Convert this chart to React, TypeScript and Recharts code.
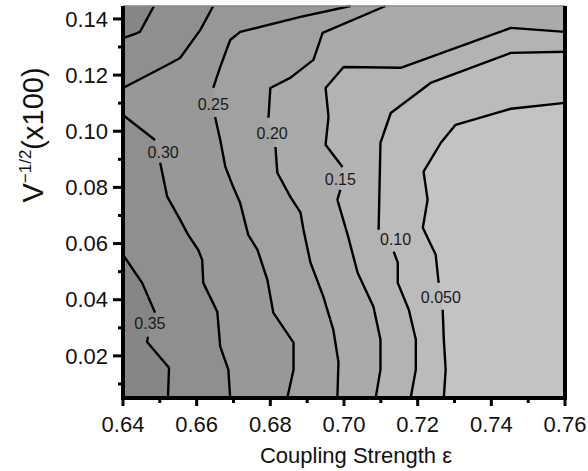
import { Scatter, ScatterChart, XAxis, YAxis } from 'recharts';

const xDomain = [0.64, 0.76];
const yDomain = [0.005, 0.1446];
const xTicks = [0.64, 0.65, 0.66, 0.67, 0.68, 0.69, 0.7, 0.71, 0.72, 0.73, 0.74, 0.75, 0.76];
const yTicks = [0.01, 0.02, 0.03, 0.04, 0.05, 0.06, 0.07, 0.08, 0.09, 0.1, 0.11, 0.12, 0.13, 0.14];

// contour lines as [coupling, V^-1/2] points; split where the level label sits
const c035a = [[0.6484, 0.1446], [0.6446, 0.1354], [0.6433, 0.1347], [0.64, 0.1332]];
const c035b1 = [[0.64, 0.056], [0.6452, 0.046], [0.6487, 0.0354]];
const c035b2 = [[0.6468, 0.0268], [0.6465, 0.025], [0.6525, 0.0158], [0.6522, 0.005]];

const c030a = [[0.6645, 0.1446], [0.661, 0.1361], [0.6555, 0.1261], [0.652, 0.1236], [0.64, 0.1154]];
const c030b1 = [[0.64, 0.1058], [0.6487, 0.0969]];
const c030b2 = [
  [0.6501, 0.0888], [0.652, 0.0767], [0.6555, 0.0685], [0.6577, 0.0631], [0.6604, 0.0578],
  [0.6615, 0.0542], [0.6618, 0.046], [0.6656, 0.0357], [0.6664, 0.0233], [0.6686, 0.0151], [0.6691, 0.005],
];

const c025a = [[0.7018, 0.1446], [0.6882, 0.1407], [0.6718, 0.1354], [0.6691, 0.1325], [0.6664, 0.1229], [0.6645, 0.1154]];
const c025b = [
  [0.665, 0.1051], [0.6664, 0.0969], [0.6678, 0.0873], [0.6699, 0.0802], [0.6718, 0.0745], [0.674, 0.0631],
  [0.6765, 0.0578], [0.6792, 0.0471], [0.6808, 0.0354], [0.6863, 0.0247], [0.6863, 0.0151], [0.6846, 0.005],
];

const c020a = [[0.7113, 0.1446], [0.6942, 0.135], [0.6917, 0.1254], [0.6854, 0.119], [0.68, 0.1154], [0.6795, 0.1048]];
const c020b = [
  [0.6814, 0.0944], [0.6819, 0.0852], [0.6854, 0.0767], [0.6882, 0.071], [0.689, 0.0649], [0.6909, 0.0532],
  [0.6944, 0.0411], [0.6971, 0.0293], [0.6985, 0.0178], [0.6982, 0.005],
];

const c015a = [[0.76, 0.1354], [0.7453, 0.1368], [0.7154, 0.1226], [0.6999, 0.1229], [0.695, 0.1154], [0.6958, 0.1051], [0.695, 0.0952], [0.6996, 0.0873]];
const c015b = [[0.699, 0.0791], [0.6982, 0.0756], [0.701, 0.0631], [0.7037, 0.0496], [0.708, 0.0375], [0.7099, 0.0258], [0.7099, 0.0151], [0.7086, 0.005]];

const c010a = [[0.76, 0.1283], [0.7453, 0.1279], [0.7235, 0.1172], [0.7127, 0.1065], [0.7099, 0.0959], [0.7094, 0.0649]];
const c010b = [[0.7135, 0.0571], [0.7146, 0.0532], [0.7146, 0.046], [0.7176, 0.0364], [0.7195, 0.0258], [0.7195, 0.0151], [0.7181, 0.005]];

const c005a = [[0.76, 0.1101], [0.7453, 0.108], [0.7303, 0.1023], [0.7263, 0.0959], [0.7216, 0.0856], [0.7227, 0.0756], [0.7214, 0.0656], [0.7249, 0.056], [0.7257, 0.046]];
const c005b = [[0.7268, 0.0364], [0.7271, 0.0258], [0.7276, 0.0151], [0.7271, 0.005]];

const levelText = ['0.35', '0.30', '0.25', '0.20', '0.15', '0.10', '0.050'];
const levelX = [0.6473, 0.6509, 0.6645, 0.6805, 0.699, 0.714, 0.7263];
const levelY = [0.0315, 0.0923, 0.1094, 0.0994, 0.0827, 0.0614, 0.0407];

const font = '"Liberation Sans", Arial, sans-serif';

const toPts = (arr: number[][]) => arr.map(([x, y]) => ({ x, y }));
const noDot = () => <g />;
const isMajor = (v: number) => Math.round(v * 100) % 2 === 0;

// major ticks get a label and a longer mark, minor ticks only a short mark
const XTick = (p: any) => {
  const v = p.payload.value;
  const major = isMajor(v);
  return (
    <g>
      <line x1={p.x} x2={p.x} y1={p.y} y2={p.y + (major ? 8 : 5)} stroke="#000" strokeWidth={3} />
      {major && (
        <text x={p.x} y={p.y + 34} textAnchor="middle" fontSize={22} fontFamily={font} fill="#111">
          {v.toFixed(2)}
        </text>
      )}
    </g>
  );
};

const YTick = (p: any) => {
  const v = p.payload.value;
  const major = isMajor(v);
  return (
    <g>
      <line x1={p.x} x2={p.x - (major ? 10 : 5)} y1={p.y} y2={p.y} stroke="#000" strokeWidth={3} />
      {major && (
        <text x={p.x - 15} y={p.y} dy="0.35em" textAnchor="end" fontSize={22} fontFamily={font} fill="#111">
          {v.toFixed(2)}
        </text>
      )}
    </g>
  );
};

const LevelLabel = (p: any) => (
  <text x={p.cx} y={p.cy} dy="0.35em" textAnchor="middle" fontSize={16} fontFamily={font} fill="#1a1a1a">
    {p.payload.t}
  </text>
);

export default function App() {
  const [x0, x1] = xDomain;
  const [y0, y1] = yDomain;

  const regions = [
    { pts: [[x0, y0], [x1, y0], [x1, y1], [x0, y1]], fill: '#c3c3c3' },
    { pts: [...c005a, ...c005b, [x0, y0], [x0, y1], [x1, y1]], fill: '#bbbbbb' },
    { pts: [...c010a, ...c010b, [x0, y0], [x0, y1], [x1, y1]], fill: '#b3b3b3' },
    { pts: [...c015a, ...c015b, [x0, y0], [x0, y1], [x1, y1]], fill: '#aaaaaa' },
    { pts: [...c020a, ...c020b, [x0, y0], [x0, y1]], fill: '#a1a1a1' },
    { pts: [...c025a, ...c025b, [x0, y0], [x0, y1]], fill: '#989898' },
    { pts: [...c030a, [x0, y1]], fill: '#8f8f8f' },
    { pts: [...c030b1, ...c030b2, [x0, y0]], fill: '#8f8f8f' },
    { pts: [...c035a, [x0, y1]], fill: '#868686' },
    { pts: [...c035b1, ...c035b2, [x0, y0]], fill: '#868686' },
  ];
  const contours = [c005a, c005b, c010a, c010b, c015a, c015b, c020a, c020b, c025a, c025b, c030a, c030b1, c030b2, c035a, c035b1, c035b2];
  const labels = levelText.map((t, i) => ({ x: levelX[i], y: levelY[i], t }));

  return (
    <div style={{ position: 'absolute', left: 0, top: 0, fontFamily: font }}>
      <ScatterChart width={588} height={471} margin={{ top: 6, right: 23, bottom: 0, left: 0 }}>
        {regions.map((r, i) => (
          <Scatter
            key={'r' + i}
            data={toPts(r.pts)}
            shape={noDot}
            line={{ fill: r.fill, stroke: 'none' }}
            isAnimationActive={false}
          />
        ))}
        {contours.map((c, i) => (
          <Scatter
            key={'c' + i}
            data={toPts(c)}
            shape={noDot}
            line={{ stroke: '#000', strokeWidth: 2.4, fill: 'none', strokeLinejoin: 'round' }}
            isAnimationActive={false}
          />
        ))}
        <Scatter
          data={toPts([[x0, y1], [x1, y1]])}
          shape={noDot}
          line={{ stroke: '#888', strokeWidth: 1.5, fill: 'none' }}
          isAnimationActive={false}
        />
        <Scatter
          data={toPts([[x0, y1], [x0, y0], [x1, y0], [x1, y1]])}
          shape={noDot}
          line={{ stroke: '#000', strokeWidth: 4, fill: 'none' }}
          isAnimationActive={false}
        />
        <Scatter data={labels} shape={LevelLabel} isAnimationActive={false} />
        <XAxis
          type="number"
          dataKey="x"
          domain={xDomain}
          ticks={xTicks}
          interval={0}
          height={73}
          axisLine={false}
          tickLine={false}
          tickSize={0}
          tickMargin={0}
          tick={XTick}
          label={{ value: 'Coupling Strength ε', position: 'insideBottom', offset: 8, fontSize: 22, fill: '#111', dx: 12 }}
        />
        <YAxis
          type="number"
          dataKey="y"
          domain={yDomain}
          ticks={yTicks}
          interval={0}
          width={123}
          axisLine={false}
          tickLine={false}
          tickSize={0}
          tickMargin={0}
          tick={YTick}
          label={() => (
            <text transform="translate(43,135) rotate(-90)" textAnchor="middle" fontSize={29} fontFamily={font} fill="#111">
              V
              <tspan dy={-12} fontSize={17}>−1/2</tspan>
              <tspan dy={12}>(x100)</tspan>
            </text>
          )}
        />
      </ScatterChart>
    </div>
  );
}
